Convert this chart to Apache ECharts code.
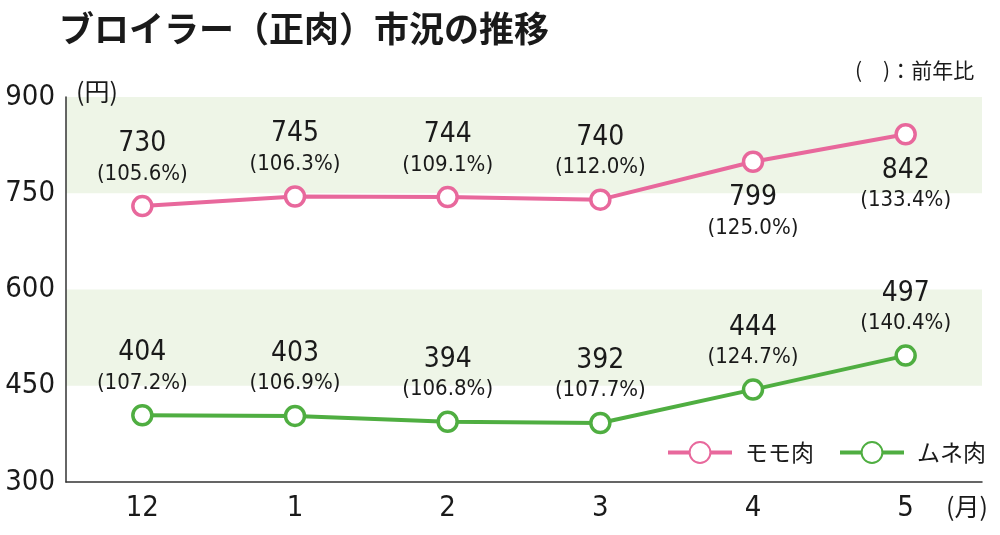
<!DOCTYPE html>
<html><head><meta charset="utf-8">
<script src="https://cdn.jsdelivr.net/npm/echarts@6/dist/echarts.min.js"></script>
<style>html,body{margin:0;padding:0;background:#fff}#c{width:1000px;height:535px}</style>
</head><body><div id="c"></div>
<script>
const categories = ['12', '1', '2', '3', '4', '5'];
const momoValues = [730, 745, 744, 740, 799, 842];
const momoYoY = ['105.6%', '106.3%', '109.1%', '112.0%', '125.0%', '133.4%'];
const momoLabelPos = ['top', 'top', 'top', 'top', 'bottom', 'bottom'];
const muneValues = [404, 403, 394, 392, 444, 497];
const muneYoY = ['107.2%', '106.9%', '106.8%', '107.7%', '124.7%', '140.4%'];
const yTicks = [300, 450, 600, 750, 900];

const NUM = '"DejaVu Sans Condensed", "Liberation Sans", sans-serif';
const JP = '"Noto Sans CJK JP", sans-serif';
const PINK = '#e8689c';
const GREEN = '#4fae41';

function mkData(vals, yoy, pos) {
  return vals.map((v, i) => ({
    value: v,
    label: { position: pos ? pos[i] : 'top', distance: pos && pos[i] === 'bottom' ? 10 : 6,
      formatter: '{a|' + v + '}\n{b|(' + yoy[i] + ')}' }
  }));
}
const richStyle = {
  a: { fontFamily: NUM, fontSize: 28, color: '#1a1a1a', lineHeight: 30, align: 'center' },
  b: { fontFamily: NUM, fontSize: 22, color: '#1a1a1a', lineHeight: 30, align: 'center' }
};

const chart = echarts.init(document.getElementById('c'));
chart.setOption({
  animation: false,
  backgroundColor: '#fff',
  title: {
    text: 'ブロイラー（正肉）市況の推移',
    left: 54, top: 6,
    textStyle: { fontFamily: JP, fontSize: 35, fontWeight: 'bold', color: '#1a1a1a' }
  },
  graphic: [
    { type: 'text', left: 855, top: 60, z: 100, style: { text: '(　)：前年比', font: '21px ' + JP, fill: '#1a1a1a' } },
    { type: 'text', left: 76, top: 79, z: 100, style: { text: '(円)', font: '25px ' + JP, fill: '#1a1a1a' } },
    { type: 'text', left: 946, top: 494, z: 100, style: { text: '(月)', font: '25px ' + JP, fill: '#1a1a1a' } }
  ],
  legend: {
    right: 9, top: 436,
    itemWidth: 64, itemHeight: 26, itemGap: 24,
    lineStyle: { width: 4 },
    textStyle: { fontFamily: JP, fontSize: 23, color: '#1a1a1a', padding: [0, 0, 0, 8] },
    data: ['モモ肉', 'ムネ肉']
  },
  grid: { left: 66, right: 18, top: 97, bottom: 53 },
  xAxis: {
    type: 'category', data: categories, boundaryGap: true,
    axisLine: { lineStyle: { color: '#333', width: 1.5 } },
    axisTick: { alignWithLabel: true, inside: true, length: 8, lineStyle: { color: '#333' } },
    axisLabel: { fontFamily: NUM, fontSize: 29, color: '#1a1a1a', margin: 12 }
  },
  yAxis: {
    type: 'value', min: yTicks[0], max: yTicks[yTicks.length - 1], interval: 150,
    axisLine: { show: true, lineStyle: { color: '#333', width: 1.5 } },
    axisTick: { show: false },
    axisLabel: { fontFamily: NUM, fontSize: 29, color: '#1a1a1a', margin: 11 },
    splitLine: { show: false },
    splitArea: { show: true, areaStyle: { color: ['rgba(0,0,0,0)', '#eef5e7'] } }
  },
  series: [
    {
      name: 'モモ肉', type: 'line', data: mkData(momoValues, momoYoY, momoLabelPos),
      symbol: 'circle', symbolSize: 19,
      lineStyle: { color: PINK, width: 4 },
      itemStyle: { color: '#fff', borderColor: PINK, borderWidth: 3.5 },
      label: { show: true, rich: richStyle },
      z: 3
    },
    {
      name: 'ムネ肉', type: 'line', data: mkData(muneValues, muneYoY, null),
      symbol: 'circle', symbolSize: 19,
      lineStyle: { color: GREEN, width: 4 },
      itemStyle: { color: '#fff', borderColor: GREEN, borderWidth: 3.5 },
      label: { show: true, rich: richStyle },
      z: 3
    }
  ]
});
</script></body></html>
